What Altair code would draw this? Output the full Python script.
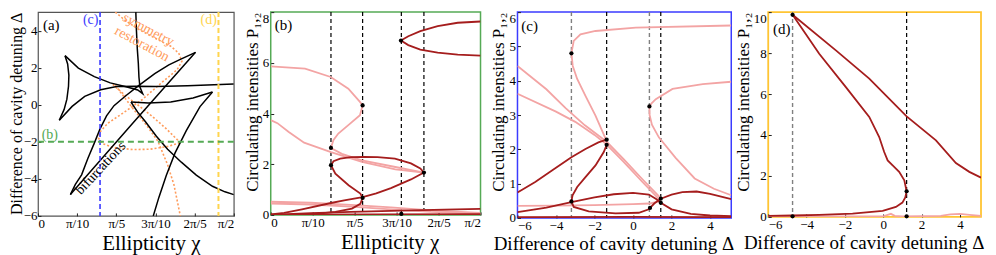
import math
import altair as alt
import pandas as pd

PI = math.pi
FONT = "Liberation Serif"
DARK = "#a51d1d"
PINK = "#f3a4a4"
ORANGE = "#ff9c5c"
BLUE = "#3b3bff"
GREEN = "#55aa55"
YELLOW = "#ffd54f"

# ---------------- panel (a): chi vs Delta ----------------
a_tri_top = [(0.217, 2.65), (0.324, 1.98), (0.452, 1.52), (0.58, 1.18), (0.707, 0.97), (0.80, 0.80), (0.84, 0.6),
             (0.818, 0.95), (0.81, 1.5), (0.805, 2.25), (0.797, 3.0), (0.79, 4.0), (0.785, 5.0)]
a_tri_right = [(0.217, 2.65), (0.238, 2.2), (0.248, 1.6), (0.245, 1.0), (0.232, 0.3), (0.21, -0.25), (0.171, -0.84)]
a_tri_bottom = [(0.171, -0.84), (0.274, -0.09), (0.375, 0.45), (0.503, 0.81), (0.631, 0.99), (0.784, 1.0),
                (0.95, 0.98), (1.2, 1.03), (1.571, 1.12)]
a_big_edge1 = [(0.26, -4.85), (0.30, -4.3), (0.35, -3.78), (0.40, -2.9), (0.452, -2.07), (0.498, -1.3), (0.55, -0.6),
               (0.61, -0.05), (0.707, 0.5), (0.81, 1.05), (0.937, 1.68), (1.05, 2.15), (1.142, 2.45), (1.264, 2.83)]
a_big_edge2 = [(0.26, -4.85), (0.76, -1.0), (1.264, 2.83)]
a_right_flat = [(0.746, 0.15), (0.886, 0.1), (1.065, 0.15), (1.244, 0.37), (1.40, 0.69)]
a_right_steep = [(1.40, 0.69), (1.30, -0.1), (1.19, -1.4), (1.10, -2.6), (1.03, -3.8), (0.97, -5.0), (0.925, -6.0)]
a_descend = [(0.746, 0.15), (0.80, -0.4), (0.861, -0.9), (0.95, -1.7), (1.04, -2.4), (1.15, -3.1), (1.27, -3.8),
             (1.40, -4.4), (1.50, -4.7), (1.571, -4.85)]
a_orange_loop = [(0.62, 5.0), (0.7, 4.55), (0.8, 4.1), (0.937, 3.6), (1.065, 3.16), (1.129, 2.79), (1.155, 2.35),
                 (1.116, 1.89), (0.988, 1.17), (0.835, 0.27), (0.682, -0.45), (0.56, -1.0), (0.50, -1.45),
                 (0.485, -1.8), (0.52, -2.1), (0.6, -2.3), (0.76, -2.42), (0.9, -2.4), (1.04, -2.25), (1.142, -2.05)]
a_orange_mid = [(0.60, 1.1), (0.70, 0.5), (0.80, 0.0), (0.912, -0.6), (1.03, -1.3), (1.142, -2.05)]
a_orange_down = [(0.62, 1.05), (0.759, -0.18), (0.87, -1.1), (0.963, -1.98), (1.04, -3.24), (1.091, -4.32),
                 (1.142, -6.0)]
a_chi_c = 0.498
a_chi_d = 1.448
a_delta_b = -2.0

# ---------------- panel (b): chi vs P ----------------
b_dark = {
    "top": [(1.571, 7.63), (1.4, 7.58), (1.25, 7.45), (1.12, 7.25), (1.03, 7.05), (0.975, 6.88), (1.03, 6.7),
            (1.12, 6.52), (1.25, 6.4), (1.4, 6.32), (1.571, 6.28)],
    "s": [(0.0, 0.0), (0.15, 0.01), (0.359, 0.05), (0.484, 0.12), (0.608, 0.25), (0.671, 0.44), (0.688, 0.67),
          (0.671, 0.84), (0.583, 1.17), (0.484, 1.63), (0.451, 1.96), (0.47, 2.12), (0.52, 2.22), (0.6, 2.28),
          (0.7, 2.29), (0.8, 2.28), (0.93, 2.22), (1.05, 2.03), (1.12, 1.83), (1.147, 1.67), (1.05, 1.40),
          (0.9, 1.06), (0.79, 0.85), (0.688, 0.70), (0.55, 0.57), (0.451, 0.47), (0.234, 0.22), (0.1, 0.08),
          (0.0, 0.02)],
    "low": [(0.0, 0.0), (0.3, 0.07), (0.6, 0.12), (0.978, 0.17), (1.3, 0.21), (1.571, 0.24)],
    "floor": [(0.0, 0.01), (0.8, 0.02), (1.571, 0.03)],
}
b_pink = {
    "top": [(0.0, 5.86), (0.257, 5.77), (0.449, 5.44), (0.581, 4.98), (0.668, 4.46), (0.688, 4.32), (0.668, 3.93),
            (0.581, 3.54), (0.506, 3.21), (0.469, 2.95), (0.451, 2.64), (0.533, 2.41), (0.683, 2.15), (0.933, 1.89),
            (1.147, 1.67)],
    "second": [(0.0, 3.74), (0.05, 3.62), (0.135, 3.27), (0.25, 2.85), (0.451, 2.48), (0.683, 2.09), (0.933, 1.8),
               (1.147, 1.67)],
    "bottom1": [(0.0, 0.52), (0.3, 0.48), (0.6, 0.4), (0.9, 0.3), (1.2, 0.18), (1.571, 0.08)],
    "bottom2": [(0.0, 0.45), (0.3, 0.41), (0.6, 0.33), (0.9, 0.22), (1.2, 0.12), (1.571, 0.04)],
}
b_vlines = [0.451, 0.688, 0.978, 1.147]
b_dots = [(0.451, 2.64), (0.451, 1.96), (0.688, 4.32), (0.688, 0.67), (0.975, 6.88), (0.978, 0.04), (1.147, 1.67)]

# ---------------- panel (c): Delta vs P ----------------
c_pink = {
    "c1": [(5.1, 5.61), (0.14, 5.55), (-1.95, 5.45), (-2.73, 5.35), (-3.08, 5.16), (-3.2, 4.8), (-3.13, 4.43),
           (-2.9, 4.05), (-2.47, 3.56), (-1.95, 2.98), (-1.37, 2.24)],
    "l1": [(-6.0, 4.43), (-4.5, 3.75), (-3.5, 3.2), (-2.5, 2.7), (-1.37, 2.22), (-0.5, 1.72), (0.5, 1.12), (1.44, 0.58)],
    "l2": [(-6.0, 3.62), (-4.0, 3.1), (-3.0, 2.8), (-2.0, 2.42), (-1.37, 2.14), (-0.5, 1.64), (0.5, 1.04), (1.44, 0.5)],
    "c2": [(5.1, 3.97), (3.62, 3.9), (2.05, 3.76), (1.18, 3.46), (0.95, 3.33), (0.85, 3.25), (0.86, 3.0), (0.98, 2.72),
           (1.34, 2.35), (2.21, 1.75), (3.2, 1.15), (4.2, 0.85), (5.1, 0.66)],
    "flat": [(-6.0, 0.35), (-4.0, 0.36), (-2.0, 0.37), (0.0, 0.4), (0.85, 0.42), (1.44, 0.5)],
}
c_dark = {
    "d1": [(-6.0, 0.74), (-5.08, 1.05), (-4.21, 1.38), (-3.2, 1.77), (-2.47, 2.01), (-1.8, 2.2), (-1.37, 2.28)],
    "d2": [(-1.37, 2.13), (-1.52, 1.92), (-1.95, 1.53), (-2.47, 1.19), (-2.9, 0.9), (-3.14, 0.66), (-3.2, 0.48),
           (-3.08, 0.32), (-2.3, 0.19), (-0.91, 0.13), (0.3, 0.15), (0.82, 0.25), (0.88, 0.29)],
    "d3": [(-6.0, 0.17), (-4.5, 0.3), (-3.2, 0.46), (-2.0, 0.6), (-1.0, 0.69), (0.0, 0.73), (0.82, 0.68),
           (1.2, 0.55), (1.44, 0.44), (2.0, 0.25), (3.0, 0.12), (4.0, 0.07), (5.1, 0.05)],
    "d4": [(0.88, 0.29), (1.1, 0.42), (1.44, 0.56), (2.0, 0.68), (2.56, 0.75), (3.3, 0.77), (4.0, 0.7), (5.1, 0.55)],
    "d5": [(-6.0, 0.02), (0.0, 0.03), (5.1, 0.02)],
}
c_vlines_gray = [-3.2, 0.85]
c_vlines_black = [-1.37, 1.44]
c_dots = [(-3.2, 4.8), (-1.37, 2.28), (-1.37, 2.13), (0.85, 3.25), (-3.2, 0.48), (0.88, 0.29), (1.44, 0.56),
          (1.44, 0.44)]

# ---------------- panel (d): Delta vs P ----------------
d_dark = {
    "upper": [(-4.73, 9.87), (-2.47, 8.13), (-0.73, 6.75), (1.22, 4.91), (2.75, 3.74), (3.79, 2.63), (4.49, 2.2),
              (5.1, 1.92)],
    "lower": [(-4.73, 9.87), (-3.34, 7.97), (-1.95, 6.34), (-0.73, 4.88), (-0.21, 3.9), (0.05, 3.17), (0.23, 2.76),
              (0.49, 2.52), (0.83, 2.2), (1.1, 1.79), (1.22, 1.25), (1.15, 0.95), (1.0, 0.7), (0.66, 0.49),
              (-0.03, 0.29), (-1.6, 0.16), (-3.34, 0.1), (-4.73, 0.07), (-6.0, 0.05)],
}
d_pink = {
    "floor": [(-6.0, 0.02), (0.0, 0.03), (0.4, 0.15), (0.6, 0.05), (1.0, 0.02), (3.0, 0.05), (3.5, 0.12),
              (4.0, 0.15), (4.5, 0.1), (5.1, 0.05)],
}
d_vlines_gray = [-4.73]
d_vlines_black = [1.22]
d_dots = [(-4.73, 9.87), (-4.73, 0.03), (1.22, 1.25), (1.22, 0.03)]


def curves(dct):
    rows = []
    for name, pts in dct.items():
        for i, (x, y) in enumerate(pts):
            rows.append({"id": name, "i": i, "x": x, "y": y})
    return pd.DataFrame(rows)


def points(pts):
    return pd.DataFrame([{"x": x, "y": y} for x, y in pts])


PI_EXPR = ("datum.value < 0.01 ? '0' : datum.value < 0.32 ? 'π/10' : datum.value < 0.63 ? 'π/5' : "
           "datum.value < 0.95 ? '3π/10' : datum.value < 1.26 ? '2π/5' : 'π/2'")
PI_VALUES = [0, PI / 10, PI / 5, 3 * PI / 10, 2 * PI / 5, PI / 2]

# ticks drawn inward: the axis is moved inside the frame by the tick length
TICK = 3
BASE = dict(grid=False, domain=False, ticks=True, tickSize=TICK, offset=-TICK, tickColor="#222", tickWidth=1,
            labelFont=FONT, labelColor="black", titleFont=FONT, titleFontWeight="normal", titleColor="black")


def xaxis(title, values, width, shift, size, expr=None):
    kw = dict(BASE)
    if expr:
        kw["labelExpr"] = expr
    return alt.Axis(title=title, values=values, titleFontSize=size, labelFontSize=13, labelPadding=2,
                    titlePadding=2, titleX=width / 2 + shift, **kw)


def yaxis(title, values, top, size=17, title_x=None, pad=2):
    kw = dict(BASE)
    if title_x is not None:
        kw["titleX"] = title_x
        kw["titleBaseline"] = "top"
    return alt.Axis(title=title, values=values, titleFontSize=size, labelFontSize=13, labelPadding=pad,
                    titlePadding=1, titleY=0, titleAlign="right", titleAngle=270,
                    labelBaseline={"condition": {"test": f"datum.value >= {top}", "value": "top"},
                                   "value": "middle"},
                    **kw)


def make_xy(xdom, ydom, xax, yax):
    X = alt.X("x:Q", scale=alt.Scale(domain=xdom, nice=False, zero=False), axis=xax)
    Y = alt.Y("y:Q", scale=alt.Scale(domain=ydom, nice=False, zero=False), axis=yax)
    return X, Y


def line(df, X, Y, color, width=1.8, dash=None):
    kw = dict(color=color, strokeWidth=width, clip=True)
    if dash:
        kw["strokeDash"] = dash
    return alt.Chart(df).mark_line(**kw).encode(x=X, y=Y, detail="id:N", order="i:Q")


def vrules(vals, X, color, dash, width=1.4):
    return alt.Chart(pd.DataFrame({"x": vals})).mark_rule(color=color, strokeDash=dash, strokeWidth=width).encode(x=X)


def dots(pts, X, Y):
    return alt.Chart(points(pts)).mark_circle(size=18, color="black", opacity=1).encode(x=X, y=Y)


def label(txt, x, y, X, Y, color="black", size=15, align="left", angle=0, baseline="middle"):
    return alt.Chart(pd.DataFrame({"x": [x], "y": [y], "t": [txt]})).mark_text(
        font=FONT, fontSize=size, color=color, align=align, angle=angle, baseline=baseline).encode(
        x=X, y=Y, text="t:N")


WA, WB, WC, WD = 196, 210, 214, 213
HA, HB, HC, HD = 204, 203, 206, 205

# ---- panel a ----
XA, YA = make_xy([0, PI / 2], [-6, 5],
                 xaxis("Ellipticity χ", PI_VALUES, WA, 15, 21, PI_EXPR),
                 yaxis("Difference of cavity detuning Δ", [-6, -4, -2, 0, 2, 4], 99, 16, -32, 1))
a_black = curves({"t1": a_tri_top, "t2": a_tri_right, "t3": a_tri_bottom, "e1": a_big_edge1, "e2": a_big_edge2,
                  "r1": a_right_flat, "r2": a_right_steep, "r3": a_descend})
a_or = curves({"o1": a_orange_loop, "o2": a_orange_mid, "o3": a_orange_down})
panel_a = alt.layer(
    line(a_or, XA, YA, ORANGE, 1.6, [2, 2]),
    line(a_black, XA, YA, "black", 1.5),
    vrules([a_chi_c], XA, BLUE, [5, 3], 1.6),
    vrules([a_chi_d], XA, YELLOW, [5, 3], 2),
    alt.Chart(pd.DataFrame({"y": [a_delta_b]})).mark_rule(color=GREEN, strokeDash=[6, 4], strokeWidth=2).encode(y=YA),
    label("(a)", 0.04, 4.3, XA, YA),
    label("(c)", 0.485, 4.6, XA, YA, color=BLUE, align="right", size=14),
    label("(d)", 1.435, 4.6, XA, YA, color=YELLOW, align="right", size=14),
    label("(b)", 0.03, -1.65, XA, YA, color=GREEN, size=14),
    label("symmetry", 0.885, 4.05, XA, YA, color=ORANGE, align="center", angle=28, size=14),
    label("restoration", 0.835, 3.28, XA, YA, color=ORANGE, align="center", angle=28, size=14),
    label("bifurcations", 0.503, -3.42, XA, YA, color="black", align="center", angle=313, size=14),
).properties(width=WA, height=HA, view=alt.ViewBackground(stroke="#555", strokeWidth=1.2))

# ---- panel b ----
XB, YB = make_xy([0, PI / 2], [0, 8],
                 xaxis("Ellipticity χ", PI_VALUES, WB, 14, 21, PI_EXPR),
                 yaxis("Circulating intensities  P₁,₂", [0, 2, 4, 6, 8], 8))
panel_b = alt.layer(
    vrules(b_vlines, XB, "black", [4, 3], 1.2),
    line(curves(b_pink), XB, YB, PINK, 1.8),
    line(curves(b_dark), XB, YB, DARK, 1.8),
    dots(b_dots, XB, YB),
    label("(b)", 0.03, 7.48, XB, YB),
).properties(width=WB, height=HB, view=alt.ViewBackground(stroke=GREEN, strokeWidth=1.5))

# ---- panel c ----
XC, YC = make_xy([-6, 5.1], [0, 6],
                 xaxis("Difference of cavity detuning  Δ", [-6, -4, -2, 0, 2, 4], WC, -11, 19),
                 yaxis("Circulating intensities  P₁,₂", [0, 1, 2, 3, 4, 5, 6], 6))
panel_c = alt.layer(
    vrules(c_vlines_gray, XC, "#808080", [4, 3], 1.4),
    vrules(c_vlines_black, XC, "black", [4, 3], 1.2),
    line(curves(c_pink), XC, YC, PINK, 1.8),
    line(curves(c_dark), XC, YC, DARK, 1.8),
    dots(c_dots, XC, YC),
    label("(c)", -5.8, 5.6, XC, YC),
).properties(width=WC, height=HC, view=alt.ViewBackground(stroke=BLUE, strokeWidth=1.5))

# ---- panel d ----
XD, YD = make_xy([-6, 5.1], [0, 10],
                 xaxis("Difference of cavity detuning  Δ", [-6, -4, -2, 0, 2, 4], WD, -11, 19),
                 yaxis("Circulating intensities  P₁,₂", [0, 2, 4, 6, 8, 10], 10))
panel_d = alt.layer(
    vrules(d_vlines_gray, XD, "#808080", [4, 3], 1.4),
    vrules(d_vlines_black, XD, "black", [4, 3], 1.2),
    line(curves(d_pink), XD, YD, PINK, 1.8),
    line(curves(d_dark), XD, YD, DARK, 1.8),
    dots(d_dots, XD, YD),
    label("(d)", -5.75, 9.2, XD, YD),
).properties(width=WD, height=HD, view=alt.ViewBackground(stroke="#ffc533", strokeWidth=1.8))

chart = alt.hconcat(panel_a, panel_b, panel_c, panel_d, spacing=37, bounds="flush").properties(
    padding={"left": 0, "top": 1, "right": 0, "bottom": 0}
).configure_view(strokeWidth=1.5)

chart.save("out.html", embed_options={"renderer": "svg", "actions": False})
